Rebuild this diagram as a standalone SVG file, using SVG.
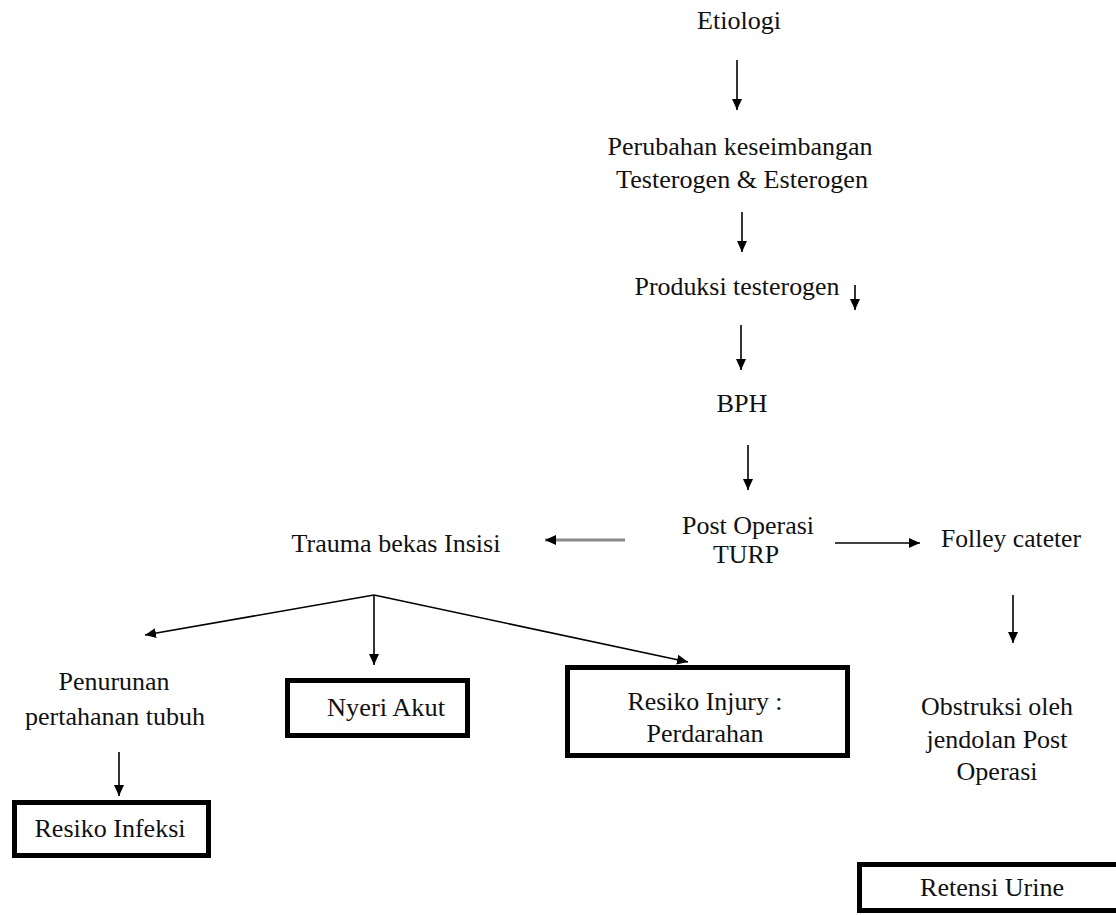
<svg xmlns="http://www.w3.org/2000/svg" width="1116" height="915" viewBox="0 0 1116 915">
<style>
text{font-size:26px;fill:#111;text-anchor:middle}
.box{fill:#fff;stroke:#000;stroke-width:5}
.c{stroke:#000;stroke-width:1.6;fill:none;marker-end:url(#ah)}
</style>
<defs>
<marker id="ah" markerUnits="userSpaceOnUse" markerWidth="12" markerHeight="12" refX="11" refY="6" orient="auto">
<path d="M0,1 L11,6 L0,11 z" fill="#000"/>
</marker>
</defs>
<rect width="1116" height="915" fill="#fff"/>
<g id="connectors">
<line class="c" x1="737" y1="60" x2="737" y2="110"/>
<line class="c" x1="742" y1="212" x2="742" y2="252"/>
<line class="c" x1="855" y1="285" x2="855" y2="310"/>
<line class="c" x1="741" y1="325" x2="741" y2="370"/>
<line class="c" x1="748" y1="445" x2="748" y2="490"/>
<line class="c" x1="625" y1="540" x2="545" y2="540" style="stroke:#8a8a8a;stroke-width:3"/>
<line class="c" x1="835" y1="543" x2="920" y2="543"/>
<line class="c" x1="374" y1="595" x2="145" y2="635"/>
<line class="c" x1="374" y1="595" x2="374" y2="665"/>
<line class="c" x1="374" y1="595" x2="688" y2="662"/>
<line class="c" x1="1013" y1="595" x2="1013" y2="643"/>
<line class="c" x1="119" y1="752" x2="119" y2="796"/>
</g>
<g font-family="Liberation Serif, DejaVu Serif, serif">
<g id="etiologi"><text x="739" y="29" textLength="84" lengthAdjust="spacingAndGlyphs">Etiologi</text></g>
<g id="perubahan"><text x="740" y="155" textLength="265" lengthAdjust="spacingAndGlyphs">Perubahan keseimbangan</text><text x="742" y="188" textLength="252" lengthAdjust="spacingAndGlyphs">Testerogen &amp; Esterogen</text></g>
<g id="produksi"><text x="737" y="295" textLength="205" lengthAdjust="spacingAndGlyphs">Produksi testerogen</text></g>
<g id="bph"><text x="742" y="412" textLength="51" lengthAdjust="spacingAndGlyphs">BPH</text></g>
<g id="postop"><text x="748" y="534" textLength="132" lengthAdjust="spacingAndGlyphs">Post Operasi</text><text x="746" y="563" textLength="66" lengthAdjust="spacingAndGlyphs">TURP</text></g>
<g id="trauma"><text x="396" y="552" textLength="209" lengthAdjust="spacingAndGlyphs">Trauma bekas Insisi</text></g>
<g id="folley"><text x="1011" y="547" textLength="140" lengthAdjust="spacingAndGlyphs">Folley cateter</text></g>
<g id="penurunan"><text x="114" y="690" textLength="111" lengthAdjust="spacingAndGlyphs">Penurunan</text><text x="115" y="725" textLength="180" lengthAdjust="spacingAndGlyphs">pertahanan tubuh</text></g>
<g id="nyeri"><rect class="box" x="287.5" y="680.5" width="180" height="55"/><text x="386" y="716" textLength="118" lengthAdjust="spacingAndGlyphs">Nyeri Akut</text></g>
<g id="injury"><rect class="box" x="567.5" y="667.5" width="280" height="88"/><text x="705" y="710" textLength="155" lengthAdjust="spacingAndGlyphs">Resiko Injury :</text><text x="705" y="742" textLength="117" lengthAdjust="spacingAndGlyphs">Perdarahan</text></g>
<g id="obstruksi"><text x="997" y="715" textLength="152" lengthAdjust="spacingAndGlyphs">Obstruksi oleh</text><text x="997" y="748" textLength="141" lengthAdjust="spacingAndGlyphs">jendolan Post</text><text x="997" y="780" textLength="81" lengthAdjust="spacingAndGlyphs">Operasi</text></g>
<g id="infeksi"><rect class="box" x="14.5" y="802.5" width="194" height="53"/><text x="110" y="837" textLength="151" lengthAdjust="spacingAndGlyphs">Resiko Infeksi</text></g>
<g id="retensi"><rect class="box" x="859.5" y="864.5" width="270" height="46"/><text x="992" y="896" textLength="144" lengthAdjust="spacingAndGlyphs">Retensi Urine</text></g>
</g>
</svg>
